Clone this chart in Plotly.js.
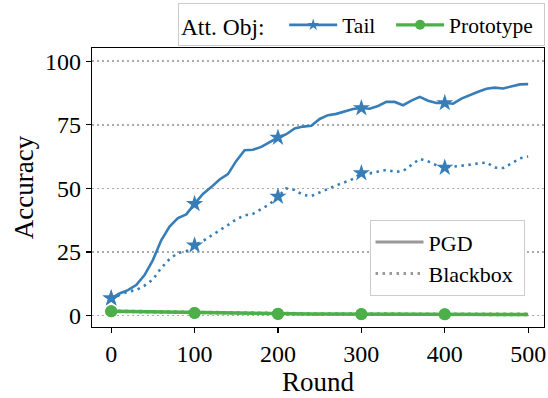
<!DOCTYPE html>
<html>
<head>
<meta charset="utf-8">
<script src="https://cdn.plot.ly/plotly-3.0.1.min.js"></script>
<style>
html,body{margin:0;padding:0;background:#fff;}
#chart{width:548px;height:398px;}
</style>
</head>
<body>
<div id="chart"></div>
<script>
const rounds = [0,10,20,30,40,50,60,70,80,90,100,110,120,130,140,150,160,170,180,190,200,210,220,230,240,250,260,270,280,290,300,310,320,330,340,350,360,370,380,390,400,410,420,430,440,450,460,470,480,490,500];
const tailPGD = [6.8,8.7,10.0,12.0,15.9,21.8,29.6,35.0,38.3,39.8,43.9,47.8,50.5,53.5,55.6,60.8,65.0,65.2,66.3,68.0,70.0,71.3,73.6,74.3,74.6,77.3,78.8,79.3,80.3,81.2,81.6,81.3,82.4,84.0,84.0,82.7,84.5,86.0,84.5,83.6,83.6,83.3,85.3,86.8,88.0,89.2,89.6,89.3,90.2,90.9,91.0];
const tailBB = [6.8,8.0,9.4,10.0,11.8,14.2,18.7,22.2,24.6,25.3,27.6,29.3,31.3,33.6,35.6,37.8,39.4,40.0,42.0,43.8,46.8,50.0,49.4,47.4,47.0,48.4,50.0,51.2,52.4,53.7,56.0,55.9,56.6,57.3,56.5,56.8,59.2,61.6,60.6,59.1,58.2,58.5,58.7,59.3,59.8,60.2,58.2,58.0,59.8,61.8,62.5];
const protoPGD = [1.7,1.65,1.6,1.5,1.4,1.3,1.2,1.15,1.1,1.05,1.0,0.95,0.9,0.85,0.8,0.8,0.75,0.7,0.7,0.65,0.65,0.6,0.6,0.6,0.6,0.6,0.6,0.6,0.55,0.55,0.55,0.55,0.55,0.55,0.5,0.5,0.5,0.5,0.5,0.5,0.5,0.5,0.5,0.5,0.45,0.45,0.45,0.45,0.45,0.4,0.4];
const protoBB = [1.7,1.65,1.6,1.55,1.45,1.35,1.25,1.2,1.15,1.1,1.05,1.0,0.95,0.9,0.85,0.85,0.8,0.75,0.75,0.7,0.7,0.65,0.65,0.65,0.65,0.6,0.6,0.6,0.6,0.6,0.6,0.6,0.55,0.55,0.55,0.55,0.55,0.55,0.55,0.5,0.5,0.5,0.5,0.5,0.5,0.5,0.5,0.5,0.5,0.45,0.45];
const yTicks = [0,25,50,75,100];
const xTicks = [0,100,200,300,400,500];
const objNames = ['Tail','Prototype'];
const methodNames = ['PGD','Blackbox'];

const BLUE = '#377eb8', GREEN = '#4daf4a', GRAY = '#999999';
const FONT = 'Liberation Serif';
const markEvery = (s) => rounds.map(r => (r % 100 === 0 && r < 500) ? s : 0);

function series(y, color, dash, symbol, msize, width) {
  return {x: rounds, y: y, mode: 'lines+markers', showlegend: false,
    line: {color: color, width: width, dash: dash},
    marker: {symbol: symbol, size: markEvery(msize), color: color, opacity: 1, line: {width: 0}}};
}
const DOT = '2.5px,4.5px';
const NB = '\u00a0';
const data = [
  series(protoBB, GREEN, DOT, 'circle', 12, 3.6),
  series(protoPGD, GREEN, 'solid', 'circle', 12, 3.6),
  series(tailBB, BLUE, DOT, 'star', 13, 2.6),
  series(tailPGD, BLUE, 'solid', 'star', 13, 2.6),
  {x: [null], y: [null], name: objNames[0] + NB + NB, mode: 'lines+markers', legend: 'legend',
   line: {color: BLUE, width: 2.6}, marker: {symbol: 'star', size: 9, color: BLUE}},
  {x: [null], y: [null], name: objNames[1] + NB, mode: 'lines+markers', legend: 'legend',
   line: {color: GREEN, width: 3.2}, marker: {symbol: 'circle', size: 10, color: GREEN}},
  {x: [null], y: [null], name: methodNames[0], mode: 'lines', legend: 'legend2',
   line: {color: GRAY, width: 3}},
  {x: [null], y: [null], name: methodNames[1] + NB, mode: 'lines', legend: 'legend2',
   line: {color: GRAY, width: 3, dash: DOT}}
];

const tf = {size: 24, family: FONT, color: '#000'};
const layout = {
  width: 548, height: 398,
  margin: {l: 92, r: 3, t: 46, b: 71},
  paper_bgcolor: '#fff', plot_bgcolor: '#fff',
  font: {family: FONT, color: '#000', size: 21.5},
  xaxis: {range: [-23, 519], tickvals: xTicks, ticks: 'outside', ticklen: 5, tickwidth: 1.2,
    tickcolor: '#000', showline: true, linecolor: '#000', linewidth: 1.3, mirror: true,
    showgrid: false, zeroline: false, tickfont: tf,
    title: {text: 'Round', font: {size: 27, family: FONT, color: '#000'}, standoff: 1}},
  yaxis: {range: [-4.5, 105.2], tickvals: yTicks, ticks: 'outside', ticklen: 5, tickwidth: 1.2,
    tickcolor: '#000', showline: true, linecolor: '#000', linewidth: 1.3, mirror: true,
    showgrid: true, gridcolor: '#aaaaaa', gridwidth: 1.5, griddash: '1.5px,3.5px', zeroline: false,
    tickfont: tf,
    title: {text: 'Accuracy', font: {size: 27, family: FONT, color: '#000'}, standoff: 3}},
  legend: {orientation: 'h', x: 1.002, xanchor: 'right', y: 1.16, yanchor: 'top',
    title: {text: 'Att. Obj:' + NB + NB, side: 'left', font: {size: 23.5, family: FONT, color: '#000'}},
    bordercolor: '#cccccc', borderwidth: 1, bgcolor: '#fff', font: {size: 21.5, family: FONT, color: '#000'},
    itemwidth: 48, traceorder: 'normal'},
  legend2: {orientation: 'v', x: 0.614, xanchor: 'left', y: 0.383, yanchor: 'top',
    bordercolor: '#cccccc', borderwidth: 1, bgcolor: '#fff', font: {size: 22, family: FONT, color: '#000'},
    itemwidth: 48}
};
Plotly.newPlot('chart', data, layout, {staticPlot: true, displayModeBar: false});
</script>
</body>
</html>
